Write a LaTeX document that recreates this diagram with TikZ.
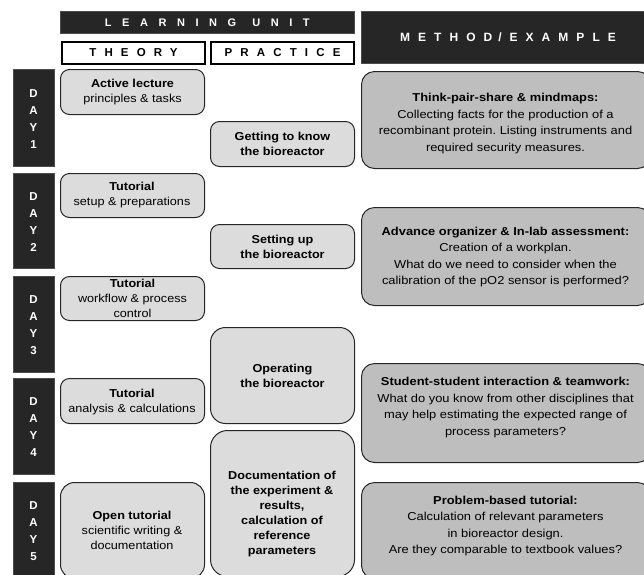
\documentclass[tikz,border=0pt]{standalone}
\usepackage{fontspec}
\setmainfont{Liberation Sans}
\frenchspacing
\definecolor{hdark}{HTML}{262626}
\definecolor{lightbox}{HTML}{DCDCDC}
\definecolor{methbox}{HTML}{BEBEBE}
\tikzset{
  hbar/.style={fill=hdark, draw=gray!60!black, line width=0.6pt, anchor=north west, inner sep=0pt},
  hbox/.style={fill=white, draw=black, line width=2pt, anchor=north west, inner sep=0pt},
  daybar/.style={fill=hdark, draw=gray!60!black, line width=0.6pt, anchor=north west, inner sep=0pt, minimum width=41pt},
  lutext/.style={text=white, font=\fontsize{11}{12}\selectfont\bfseries\addfontfeature{LetterSpace=96}},
  metext/.style={text=white, font=\fontsize{12}{14}\selectfont\bfseries\addfontfeature{LetterSpace=67}},
  btext/.style={font=\fontsize{11.5}{12}\selectfont\bfseries\addfontfeature{LetterSpace=71}},
  daytext/.style={text=white, align=center, font=\fontsize{11.5}{17}\selectfont\bfseries},
  lbox/.style={fill=lightbox, draw=black!85, line width=1pt, rounded corners=9pt, anchor=north west, inner sep=0pt, minimum width=144pt},
  mbox/.style={fill=methbox, draw=black!85, line width=1pt, rounded corners=13pt, anchor=north west, inner sep=0pt, minimum width=289pt},
  btxt/.style={align=center, font=\fontsize{11.5}{15}\selectfont\addfontfeature{FakeStretch=1.1}},
  bbtxt/.style={align=center, font=\fontsize{11.5}{15}\selectfont\bfseries\addfontfeature{FakeStretch=1.1}},
  mtxt/.style={align=center, font=\fontsize{11.5}{16.5}\selectfont\addfontfeature{FakeStretch=1.12}},
}
\begin{document}
\begin{tikzpicture}[x=1pt,y=-1pt]
\useasboundingbox (0,0) rectangle (644,574);
\clip (0,0) rectangle (644,574);
% headers
\node[hbar, minimum width=294pt, minimum height=22pt] (lu) at (60,11) {};
\node[lutext] (lut) at (lu.center) {LEARNING\hspace{16pt}UNIT};
\node[hbox, minimum width=143pt, minimum height=22pt] (th) at (61,41) {};
\node[btext] (tht) at (th.center) {THEORY};
\node[hbox, minimum width=143pt, minimum height=22pt] (pr) at (210,41) {};
\node[btext] (prt) at (pr.center) {PRACTICE};
\node[hbar, minimum width=300pt, minimum height=52pt] (me) at (361,11) {};
\node[metext, anchor=center] (met) at (508,37) {METHOD\hspace{6pt}/\hspace{8pt}EXAMPLE};
% day bars
\node[daybar, minimum height=97pt] (d1) at (13,69) {};
\node[daytext] (d1t) at (33.5,119.5) {D\\A\\Y\\1};
\node[daybar, minimum height=95pt] (d2) at (13,173) {};
\node[daytext] (d2t) at (33.5,222) {D\\A\\Y\\2};
\node[daybar, minimum height=96pt] (d3) at (13,276) {};
\node[daytext] (d3t) at (33.5,325) {D\\A\\Y\\3};
\node[daybar, minimum height=96pt] (d4) at (13,378) {};
\node[daytext] (d4t) at (33.5,427) {D\\A\\Y\\4};
\node[daybar, minimum height=110pt] (d5) at (13,482) {};
\node[daytext] (d5t) at (33.5,531) {D\\A\\Y\\5};
% theory
\node[lbox, minimum height=45pt] (ta) at (60,69) {};
\node[btxt] (tat) at (ta.center) {\textbf{Active lecture}\\principles \& tasks};
\node[lbox, minimum height=44pt] (tb) at (60,173) {};
\node[btxt] (tbt) at (132,195.5) {\textbf{Tutorial}\\setup \& preparations};
\node[lbox, minimum height=44pt] (tc) at (60,276) {};
\node[btxt] (tct) at (tc.center) {\textbf{Tutorial}\\workflow \& process\\control};
\node[lbox, minimum height=45pt] (td) at (60,378) {};
\node[btxt] (tdt) at (132,402) {\textbf{Tutorial}\\analysis \& calculations};
\node[lbox, minimum height=96pt, rounded corners=14pt] (te) at (60,482) {};
\node[btxt] (tet) at (132,530.5) {\textbf{Open tutorial}\\scientific writing \&\\documentation};
% practice
\node[lbox, minimum height=45pt] (pa) at (210,121) {};
\node[bbtxt] (pat) at (pa.center) {Getting to know\\the bioreactor};
\node[lbox, minimum height=44pt] (pb) at (210,224) {};
\node[bbtxt] (pbt) at (pb.center) {Setting up\\the bioreactor};
\node[lbox, minimum height=96pt, rounded corners=15pt] (pc) at (210,327) {};
\node[bbtxt] (pct) at (pc.center) {Operating\\the bioreactor};
\node[lbox, minimum height=146pt, rounded corners=17pt] (pd) at (210,430) {};
\node[bbtxt] (pdt) at (282,514) {Documentation of\\the experiment \&\\results,\\calculation of\\reference\\parameters};
% method
\node[mbox, minimum height=97pt] (ma) at (361,71) {};
\node[mtxt] (mat) at (505.5,123.5) {\textbf{Think-pair-share \& mindmaps:}\\Collecting facts for the production of a\\recombinant protein. Listing instruments and\\required security measures.};
\node[mbox, minimum height=98pt] (mb) at (361,207) {};
\node[mtxt] (mbt) at (505.5,257) {\textbf{Advance organizer \& In-lab assessment:}\\Creation of a workplan.\\What do we need to consider when the\\calibration of the pO2 sensor is performed?};
\node[mbox, minimum height=99pt] (mc) at (361,363) {};
\node[mtxt] (mct) at (505.5,407.5) {\textbf{Student-student interaction \& teamwork:}\\What do you know from other disciplines that\\may help estimating the expected range of\\process parameters?};
\node[mbox, minimum height=96pt] (md) at (361,482) {};
\node[mtxt] (mdt) at (505.5,526) {\textbf{Problem-based tutorial:}\\Calculation of relevant parameters\\in bioreactor design.\\Are they comparable to textbook values?};
\end{tikzpicture}
\end{document}
